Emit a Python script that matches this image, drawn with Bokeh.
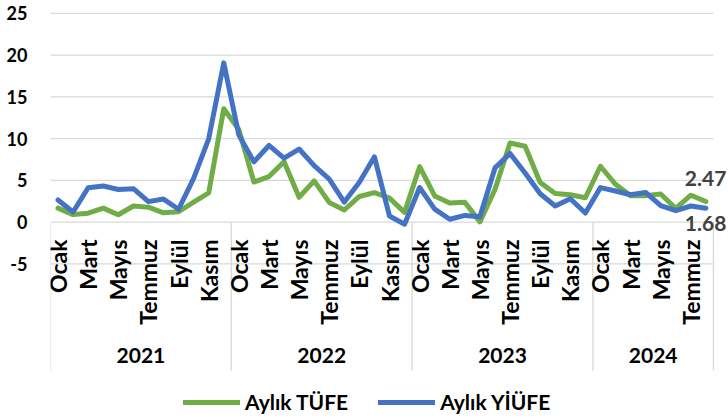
import math
from bokeh.plotting import figure
from bokeh.models import Range1d, FixedTicker, ColumnDataSource, Legend, LegendItem
from bokeh.core.properties import value
from bokeh.embed import file_html
from bokeh.resources import INLINE

# ---- data (monthly % change, Jan 2021 - Aug 2024) ----
years = ["2021", "2022", "2023", "2024"]
months_per_year = [12, 12, 12, 8]
month_tick_labels = ["Ocak", "Mart", "Mayıs", "Temmuz", "Eylül", "Kasım"]

tufe = [1.68, 0.91, 1.08, 1.68, 0.89, 1.94, 1.80, 1.12, 1.25, 2.39, 3.51, 13.58,
        11.10, 4.81, 5.46, 7.25, 2.98, 4.95, 2.37, 1.46, 3.08, 3.54, 2.88, 1.18,
        6.65, 3.15, 2.29, 2.39, 0.04, 3.92, 9.49, 9.09, 4.75, 3.43, 3.28, 2.93,
        6.70, 4.53, 3.16, 3.18, 3.37, 1.64, 3.23, 2.47]
yiufe = [2.66, 1.22, 4.13, 4.34, 3.92, 4.01, 2.46, 2.77, 1.55, 5.24, 9.99, 19.08,
         10.45, 7.22, 9.19, 7.67, 8.76, 6.77, 5.17, 2.41, 4.78, 7.83, 0.74, -0.24,
         4.15, 1.56, 0.35, 0.81, 0.65, 6.50, 8.23, 5.89, 3.40, 1.94, 2.81, 1.10,
         4.14, 3.74, 3.29, 3.56, 1.97, 1.38, 1.94, 1.68]
y_ticks = [-5, 0, 5, 10, 15, 20, 25]
series_names = ["Aylık TÜFE", "Aylık YİÜFE"]

GREEN = "#70ad47"
BLUE = "#4472c4"
GRID = "#d9d9d9"
FONT = "Lato"

n = len(tufe)
xs = [i + 0.5 for i in range(n)]

p = figure(width=728, height=420, output_backend="svg", toolbar_location=None,
           x_range=Range1d(0, 45.0), y_range=Range1d(-23.75, 26.55),
           x_axis_location=None, min_border_left=50, min_border_right=0,
           min_border_top=0, min_border_bottom=0)
p.outline_line_color = None
p.xgrid.visible = False
p.ygrid.visible = False
p.background_fill_color = "white"

# y axis
yax = p.yaxis[0]
yax.ticker = FixedTicker(ticks=y_ticks)
yax.major_label_overrides = {t: str(t) for t in y_ticks}
yax.axis_line_color = None
yax.major_tick_line_color = None
yax.minor_tick_line_color = None
yax.major_tick_out = 0
yax.major_label_standoff = 23
yax.major_label_text_font = FONT
yax.major_label_text_font_style = "bold"
yax.major_label_text_font_size = "18px"
yax.major_label_text_color = "black"

# grid lines
p.segment(x0=[0] * len(y_ticks), x1=[n] * len(y_ticks), y0=y_ticks, y1=y_ticks,
          line_color=GRID, line_width=1.3)

# year separators
bounds = [0]
for m in months_per_year:
    bounds.append(bounds[-1] + m)
p.segment(x0=bounds, x1=bounds, y0=[0] * len(bounds), y1=[-17.76] * len(bounds),
          line_color=GRID, line_width=1.3)

# month labels
mx, mt = [], []
for yi, m in enumerate(months_per_year):
    for k in range(0, m, 2):
        mx.append(bounds[yi] + k + 0.5)
        mt.append(month_tick_labels[k // 2])
p.text(x=mx, y=[-2.07] * len(mx), text=mt, angle=math.pi / 2,
       text_align="right", text_baseline="middle", text_font=value(FONT),
       text_font_style="bold", text_font_size="23px", text_color="black")

# year labels
yx = [(bounds[i] + bounds[i + 1]) / 2 for i in range(len(years))]
p.text(x=yx, y=[-15.96] * len(yx), text=years, text_align="center",
       text_baseline="middle", text_font=value(FONT), text_font_style="bold",
       text_font_size="21px", text_color="black")

# series
src = ColumnDataSource(dict(x=xs, tufe=tufe, yiufe=yiufe))
r1 = p.line("x", "tufe", source=src, line_color=GREEN, line_width=5,
            line_join="round", line_cap="round")
r2 = p.line("x", "yiufe", source=src, line_color=BLUE, line_width=5,
            line_join="round", line_cap="round")

# end labels
p.text(x=[44.86, 44.86], y=[tufe[-1] + 2.76, yiufe[-1] - 1.84],
       text=[f"{tufe[-1]:.2f}", f"{yiufe[-1]:.2f}"], text_align="right",
       text_baseline="middle", text_font=value(FONT), text_font_style="bold",
       text_font_size="21px", text_color="#404040")

legend = Legend(items=[LegendItem(label=series_names[0], renderers=[r1]),
                       LegendItem(label=series_names[1], renderers=[r2])],
                orientation="horizontal", location=(133, 6), padding=0, margin=0,
                spacing=30, glyph_width=57, label_standoff=5,
                label_text_font=FONT, label_text_font_style="bold",
                label_text_font_size="21px", label_text_color="black",
                border_line_color=None, background_fill_alpha=0)
p.add_layout(legend)

open("out.html", "w").write(file_html(p, INLINE))
